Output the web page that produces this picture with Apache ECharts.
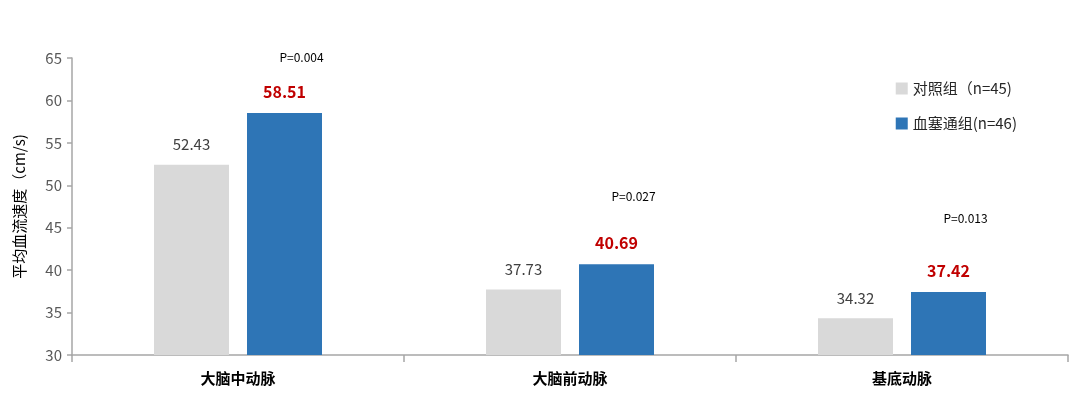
<!DOCTYPE html>
<html><head><meta charset="utf-8">
<script src="https://cdn.jsdelivr.net/npm/echarts@6/dist/echarts.min.js"></script>
<style>html,body{margin:0;padding:0;background:#fff}#c{width:1080px;height:408px}</style>
</head><body><div id="c"></div>
<script>
var categories = ['大脑中动脉', '大脑前动脉', '基底动脉'];
var seriesNames = ['对照组（n=45)', '血塞通组(n=46)'];
var controlValues = [52.43, 37.73, 34.32];
var treatValues = [58.51, 40.69, 37.42];
var pLabels = ['P=0.004', 'P=0.027', 'P=0.013'];
var yTicks = { min: 30, max: 65, interval: 5 };

var pGaps = [21, 33, 39];
var FONT = '"Noto Sans CJK SC", "Noto Sans", sans-serif';

var chart = echarts.init(document.getElementById('c'));
chart.setOption({
  animation: false,
  textStyle: { fontFamily: FONT },
  grid: { left: 72, right: 12, top: 58, bottom: 53 },
  legend: {
    orient: 'vertical', right: 58, top: 76, itemWidth: 12, itemHeight: 12, itemGap: 20,
    icon: 'rect',
    textStyle: { fontSize: 15, color: '#262626', fontFamily: FONT },
    data: seriesNames
  },
  xAxis: {
    type: 'category', data: categories,
    axisLine: { lineStyle: { color: '#a6a6a6', width: 1.5 } },
    axisTick: { show: true, length: 7, lineStyle: { color: '#a6a6a6', width: 1.5 } },
    axisLabel: { fontSize: 15, fontWeight: 'bold', color: '#000', margin: 16, fontFamily: FONT }
  },
  yAxis: {
    type: 'value', min: yTicks.min, max: yTicks.max, interval: yTicks.interval,
    name: '平均血流速度（cm/s)', nameLocation: 'middle', nameGap: 45, nameRotate: 90,
    nameTextStyle: { fontSize: 15, color: '#000', fontFamily: FONT },
    splitLine: { show: false },
    axisLine: { show: true, lineStyle: { color: '#a6a6a6', width: 1.5 } },
    axisTick: { show: true, length: 5, lineStyle: { color: '#a6a6a6', width: 1.5 } },
    axisLabel: { fontSize: 15, color: '#595959', margin: 10, fontFamily: FONT }
  },
  series: [
    {
      name: seriesNames[0], type: 'bar', data: controlValues,
      barWidth: 75, barGap: '24%',
      itemStyle: { color: '#d9d9d9' },
      label: { show: true, position: 'top', distance: 13, fontSize: 15, color: '#404040', fontFamily: FONT }
    },
    {
      name: seriesNames[1], type: 'bar', barWidth: 75,
      itemStyle: { color: '#2e75b6' },
      data: treatValues.map(function (v, i) {
        return {
          value: v,
          label: {
            show: true, position: 'top', distance: 13,
            formatter: '{p|' + pLabels[i] + '}\n{v|{c}}',
            rich: {
              p: { fontSize: 12, color: '#000', padding: [0, 0, pGaps[i], 34], fontFamily: FONT },
              v: { fontSize: 16, fontWeight: 'bold', color: '#c00000', fontFamily: FONT }
            }
          }
        };
      })
    }
  ]
});
</script></body></html>
